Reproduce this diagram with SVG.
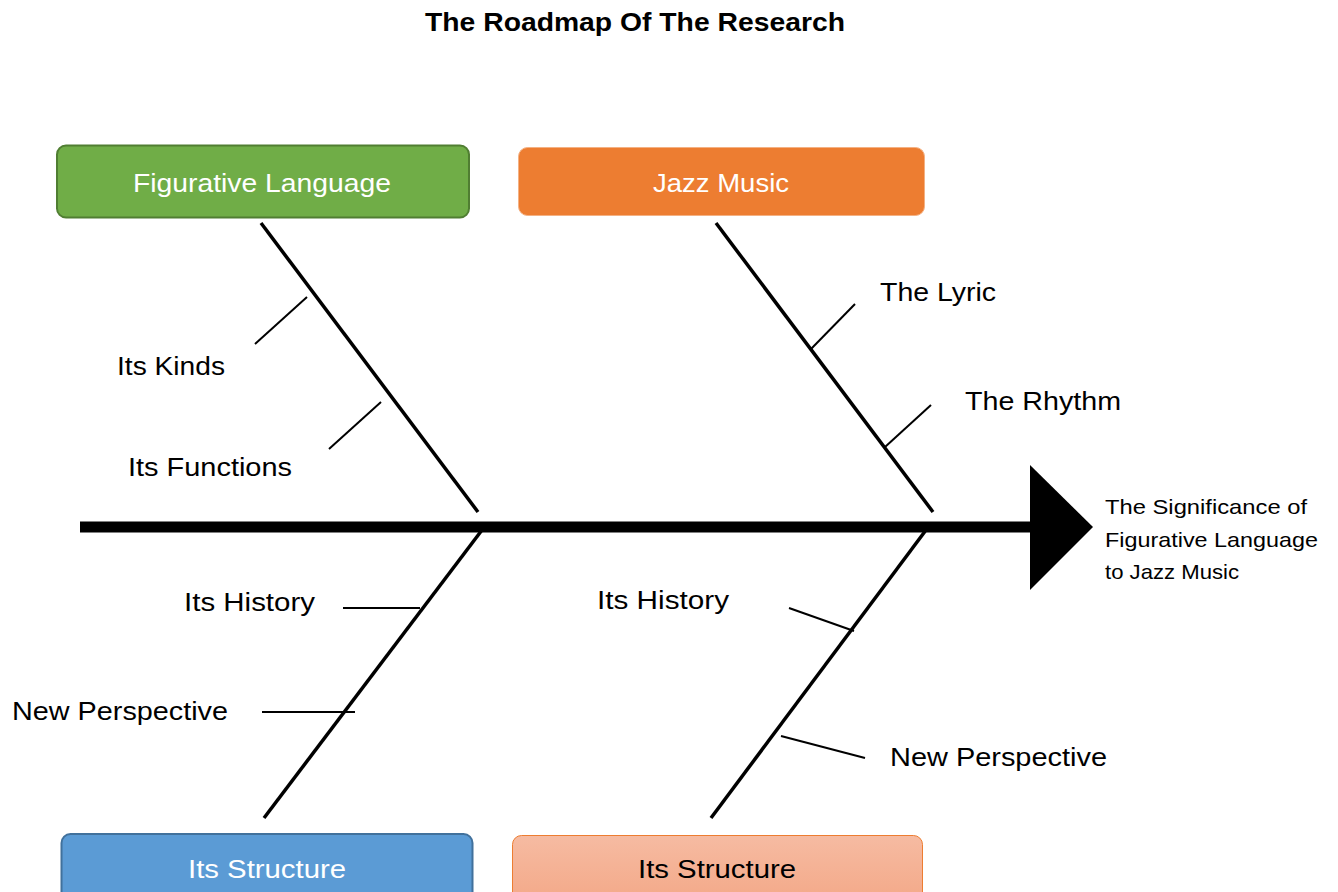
<svg xmlns="http://www.w3.org/2000/svg" width="1338" height="892" viewBox="0 0 1338 892">
<style>
text{font-family:"Liberation Sans",Arial,sans-serif}
.lbl{font-size:25px;fill:#000}
.box{font-size:25px;fill:#fff;text-anchor:middle}
.res{font-size:21px;fill:#000}
.bone{stroke:#000;stroke-width:3.5;fill:none;stroke-linecap:butt}
.rib{stroke:#000;stroke-width:2;fill:none}
</style>
<defs>
<linearGradient id="peach" x1="0" y1="0" x2="0" y2="1">
<stop offset="0" stop-color="#f6bba2"/>
<stop offset="1" stop-color="#f3a583"/>
</linearGradient>
</defs>
<text x="635" y="31" text-anchor="middle" font-size="25" font-weight="bold" textLength="420" lengthAdjust="spacingAndGlyphs">The Roadmap Of The Research</text>

<g id="connectors">
<line x1="80" y1="527" x2="1034" y2="527" stroke="#000" stroke-width="11"/>
<polygon points="1030,465 1093,527 1030,590" fill="#000"/>
<line class="bone" x1="261" y1="223" x2="478" y2="512"/>
<line class="bone" x1="716" y1="223" x2="933" y2="512"/>
<line class="bone" x1="482" y1="530" x2="264" y2="818"/>
<line class="bone" x1="926" y1="530" x2="711" y2="818"/>
<line class="rib" x1="255" y1="344" x2="307" y2="297"/>
<line class="rib" x1="329" y1="449" x2="381" y2="402"/>
<line class="rib" x1="811" y1="349" x2="855" y2="304"/>
<line class="rib" x1="885" y1="447" x2="931" y2="405"/>
<line class="rib" x1="343" y1="608" x2="420" y2="608"/>
<line class="rib" x1="262" y1="712" x2="355" y2="712"/>
<line class="rib" x1="789" y1="608" x2="854" y2="631"/>
<line class="rib" x1="781" y1="736" x2="865" y2="758"/>
</g>

<g id="node-figurative">
<rect x="57" y="145.5" width="412" height="72" rx="9" fill="#70ad47" stroke="#507e32" stroke-width="2"/>
<text class="box" x="262" y="192" textLength="258" lengthAdjust="spacingAndGlyphs">Figurative Language</text>
</g>
<g id="node-jazz">
<rect x="518.5" y="147.5" width="406" height="68" rx="9" fill="#ed7d31" stroke="#f4b183" stroke-width="1"/>
<text class="box" x="721" y="192" textLength="136" lengthAdjust="spacingAndGlyphs">Jazz Music</text>
</g>
<g id="node-structure-left">
<rect x="61.5" y="834" width="411" height="80" rx="9" fill="#5b9bd5" stroke="#41719c" stroke-width="2"/>
<text class="box" x="267" y="878" textLength="158" lengthAdjust="spacingAndGlyphs">Its Structure</text>
</g>
<g id="node-structure-right">
<rect x="512.5" y="835.5" width="410" height="80" rx="9" fill="url(#peach)" stroke="#ed7d31" stroke-width="1"/>
<text class="box" x="717" y="878" style="fill:#000" textLength="158" lengthAdjust="spacingAndGlyphs">Its Structure</text>
</g>

<g id="node-its-kinds"><text class="lbl" x="117" y="375" textLength="108" lengthAdjust="spacingAndGlyphs">Its Kinds</text></g>
<g id="node-its-functions"><text class="lbl" x="128" y="476" textLength="164" lengthAdjust="spacingAndGlyphs">Its Functions</text></g>
<g id="node-the-lyric"><text class="lbl" x="880" y="301" textLength="116" lengthAdjust="spacingAndGlyphs">The Lyric</text></g>
<g id="node-the-rhythm"><text class="lbl" x="965" y="410" textLength="156" lengthAdjust="spacingAndGlyphs">The Rhythm</text></g>
<g id="node-history-left"><text class="lbl" x="184" y="611" textLength="131" lengthAdjust="spacingAndGlyphs">Its History</text></g>
<g id="node-perspective-left"><text class="lbl" x="12" y="720" textLength="216" lengthAdjust="spacingAndGlyphs">New Perspective</text></g>
<g id="node-history-right"><text class="lbl" x="597" y="609" textLength="132" lengthAdjust="spacingAndGlyphs">Its History</text></g>
<g id="node-perspective-right"><text class="lbl" x="890" y="766" textLength="217" lengthAdjust="spacingAndGlyphs">New Perspective</text></g>

<g id="node-result">
<text class="res" x="1105" y="514" textLength="202" lengthAdjust="spacingAndGlyphs">The Significance of</text>
<text class="res" x="1105" y="547" textLength="213" lengthAdjust="spacingAndGlyphs">Figurative Language</text>
<text class="res" x="1105" y="579" textLength="134" lengthAdjust="spacingAndGlyphs">to Jazz Music</text>
</g>
</svg>
